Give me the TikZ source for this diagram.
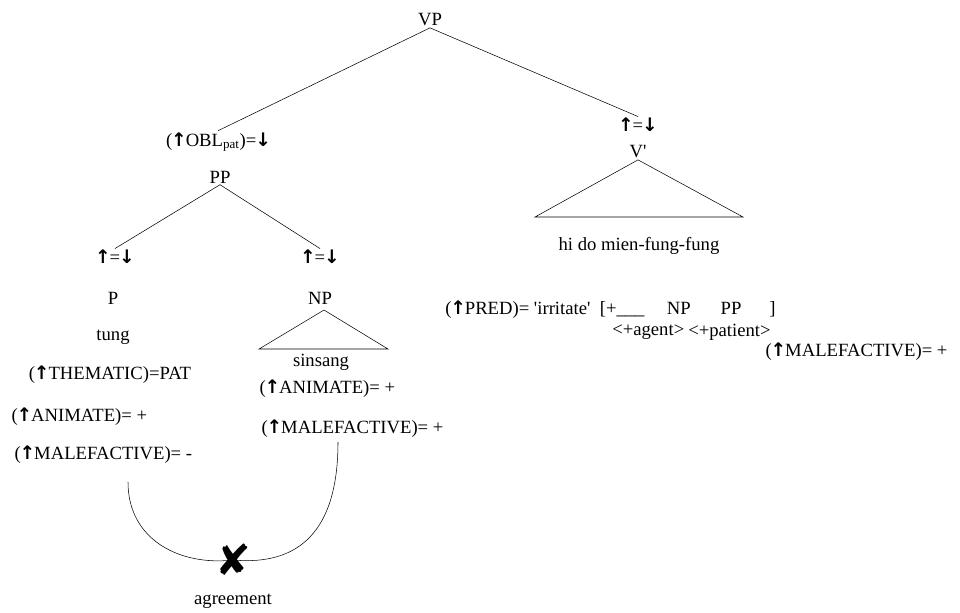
\documentclass[tikz,border=0pt]{standalone}
\usepackage{fontspec}
\setmainfont{Liberation Serif}
\newfontfamily\arrowfont{DejaVu Sans}
\newcommand{\upar}{{\arrowfont\bfseries\kern-0.06em↑\kern-0.06em}}
\newcommand{\dnar}{{\arrowfont\bfseries\kern-0.06em↓\kern-0.06em}}
\newcommand{\udeq}{\upar=\dnar}
\newcommand{\sq}{\textquotesingle}

\begin{document}
\begin{tikzpicture}[x=0.75pt,y=-0.75pt,
    lab/.style={inner sep=1pt, font=\fontsize{14}{16}\selectfont},
    feat/.style={lab, anchor=west}]
    \useasboundingbox (0,0) rectangle (960,612);

    % top of the tree
    \node[lab] (vp) at (430,20) {VP};
    \node[lab] (obl) at (218,142) {(\upar OBL\textsubscript{pat})=\dnar};
    \node[lab] (udv) at (638,125) {\udeq};
    \draw (vp.south) -- (obl.north);
    \draw (vp.south) -- (udv.north);

    % PP part
    \node[lab] (pp) at (220,177) {PP};
    \node[lab] (udp) at (115,257) {\udeq};
    \node[lab] (udn) at (320,257) {\udeq};
    \draw (pp.south) -- (udp.north);
    \draw (pp.south) -- (udn.north);
    \node[lab] (p) at (113,298) {P};
    \node[lab] (tung) at (113,337) {tung};
    \node[lab] (them) at (110,375) {(\upar THEMATIC)=PAT};
    \node[feat] (anim1) at (10,417) {(\upar ANIMATE)= +};
    \node[feat] (male1) at (13,455) {(\upar MALEFACTIVE)= -};

    \node[lab] (np) at (320,298) {NP};
    \draw (324,310) -- (259,349) -- (388,349) -- cycle;
    \node[lab] (sinsang) at (321,362) {sinsang};
    \node[feat] (anim2) at (258,389) {(\upar ANIMATE)= +};
    \node[feat] (male2) at (260,429) {(\upar MALEFACTIVE)= +};

    % V' part
    \node[lab] (vbar) at (638,152) {V\sq};
    \draw (vbar.south) -- (535,217) -- (743,217) -- cycle;
    \node[lab] (hido) at (639,246) {hi do mien-fung-fung};

    \node[feat, inner sep=0pt] (pred) at (445,310) {(\upar PRED)= \sq irritate\sq\ \ [+\_\_\_\hspace{1.2em}NP\hspace{1.6em}PP\hspace{1.5em}]};
    \node[feat, inner sep=0pt] (agent) at (612,332) {<+agent>};
    \node[feat, inner sep=0pt] (patient) at (688,332) {<+patient>};
    \node[feat] (male3) at (764,352) {(\upar MALEFACTIVE)= +};

    % agreement
    \coordinate (cl) at (128,482);
    \coordinate (cr) at (338,442);
    \node[inner sep=0pt, font=\fontsize{32}{32}\arrowfont] (cross) at (233,560) {✘};
    \node[lab] (agr) at (233,601) {agreement};
    \draw (cl) .. controls (128,540) and (180,566) .. (cross.center)
          .. controls (300,566) and (338,530) .. (cr);
\end{tikzpicture}
\end{document}
